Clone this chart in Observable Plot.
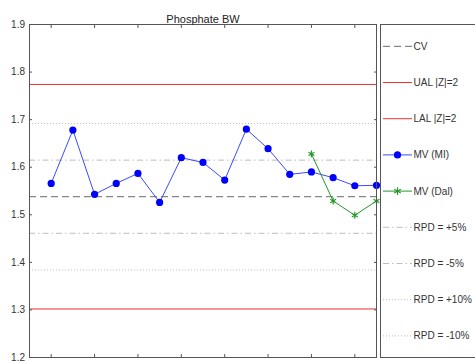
<!DOCTYPE html>
<html>
<head>
<meta charset="utf-8">
<script src="https://cdn.jsdelivr.net/npm/d3@7"></script>
<script src="https://cdn.jsdelivr.net/npm/@observablehq/plot@0.6"></script>
<style>
  body { margin: 0; background: #fff; }
  #chart { position: relative; width: 475px; height: 361px; font-family: "Liberation Sans", Arial, sans-serif; }
  #chart svg { position: absolute; left: 0; top: 0; }
</style>
</head>
<body>
<div id="chart"></div>
<script>
// Phosphate BW: measured values per run, with control limits and RPD bands
const title = "Phosphate BW";
const runs = [1, 2, 3, 4, 5, 6, 7, 8, 9, 10, 11, 12, 13, 14, 15, 16];
const mvMI = [1.566, 1.678, 1.543, 1.566, 1.587, 1.526, 1.620, 1.610, 1.573, 1.680, 1.639, 1.585, 1.590, 1.578, 1.561, 1.562];
const runsDal = [13, 14, 15, 16];
const mvDal = [1.628, 1.529, 1.499, 1.529];
const cv = 1.538;
const ual = 1.774;
const lal = 1.302;
const rpdPercent = [5, -5, 10, -10];
const yTicks = [1.2, 1.3, 1.4, 1.5, 1.6, 1.7, 1.8, 1.9];
const xTicks = [1, 3, 5, 7, 9, 11, 13, 15];
const legendLabels = ["CV", "UAL |Z|=2", "LAL |Z|=2", "MV (MI)", "MV (Dal)", "RPD = +5%", "RPD = -5%", "RPD = +10%", "RPD = -10%"];

const colors = { cv: "#6a6a6a", limit: "#f03030", mi: "#3a4aff", miDot: "#0000ff", dal: "#23982a", rpd: "#bdbdbd", axis: "#555", text: "#333" };
const dash = { cv: "7,4", rpd5: "6,3,1.5,3", rpd10: "1,2" };

const mi = runs.map((r, i) => ({ run: r, value: mvMI[i] }));
const dal = runsDal.map((r, i) => ({ run: r, value: mvDal[i] }));
const rpd5 = rpdPercent.filter(p => Math.abs(p) === 5).map(p => cv * (1 + p / 100));
const rpd10 = rpdPercent.filter(p => Math.abs(p) === 10).map(p => cv * (1 + p / 100));

// inward tick marks on all four sides, labels only on the left
const tickOnly = { tickSize: -3, fill: "none", label: null, stroke: colors.axis };

const plot = Plot.plot({
  width: 475,
  height: 361,
  marginLeft: 29,
  marginRight: 99,
  marginTop: 24,
  marginBottom: 4,
  style: { fontFamily: "Liberation Sans, Arial, sans-serif", fontSize: "10px", color: colors.text, background: "transparent" },
  x: { domain: [0, 16], axis: null },
  y: { domain: [1.2, 1.9], axis: null },
  marks: [
    Plot.ruleY(rpd10, { stroke: colors.rpd, strokeDasharray: dash.rpd10 }),
    Plot.ruleY(rpd5, { stroke: colors.rpd, strokeDasharray: dash.rpd5 }),
    Plot.ruleY([ual, lal], { stroke: colors.limit }),
    Plot.ruleY([cv], { stroke: colors.cv, strokeDasharray: dash.cv }),
    Plot.line(mi, { x: "run", y: "value", stroke: colors.mi, strokeWidth: 1 }),
    Plot.dot(mi, { x: "run", y: "value", r: 3.6, fill: colors.miDot, stroke: null }),
    Plot.line(dal, { x: "run", y: "value", stroke: colors.dal, strokeWidth: 1 }),
    Plot.dot(dal, { x: "run", y: "value", symbol: "asterisk", r: 3.2, stroke: colors.dal, strokeWidth: 1.2 }),
    Plot.frame({ stroke: colors.axis }),
    Plot.axisY({ ticks: yTicks, anchor: "left", tickSize: -3, tickPadding: 7.5, tickFormat: ".1f", label: null, stroke: colors.axis, fill: colors.text }),
    Plot.axisY({ ticks: yTicks, anchor: "right", ...tickOnly }),
    Plot.axisX({ ticks: xTicks, anchor: "top", ...tickOnly }),
    Plot.axisX({ ticks: xTicks, anchor: "bottom", ...tickOnly }),
    Plot.text([title], { frameAnchor: "top", dy: -9, fontSize: 11, fill: "#222" })
  ]
});
document.getElementById("chart").appendChild(plot);

// Legend panel to the right of the plot
const legend = d3.select("#chart").append("svg")
  .attr("width", 475).attr("height", 361)
  .style("pointer-events", "none")
  .style("font-family", "Liberation Sans, Arial, sans-serif")
  .style("font-size", "10px");

legend.append("rect")
  .attr("x", 380.5).attr("y", 24.5).attr("width", 120).attr("height", 333)
  .attr("fill", "#fff").attr("stroke", colors.axis);

const styles = [
  { stroke: colors.cv, dash: dash.cv },
  { stroke: colors.limit },
  { stroke: colors.limit },
  { stroke: colors.mi, marker: "dot" },
  { stroke: colors.dal, marker: "asterisk" },
  { stroke: colors.rpd, dash: dash.rpd5 },
  { stroke: colors.rpd, dash: dash.rpd5 },
  { stroke: colors.rpd, dash: dash.rpd10 },
  { stroke: colors.rpd, dash: dash.rpd10 }
];

legendLabels.forEach((label, i) => {
  const y = 46.3 + i * 36.2;
  const s = styles[i];
  const g = legend.append("g");
  g.append("line").attr("x1", 383).attr("x2", 412).attr("y1", y).attr("y2", y)
    .attr("stroke", s.stroke).attr("stroke-dasharray", s.dash || null);
  if (s.marker === "dot") {
    g.append("circle").attr("cx", 397.5).attr("cy", y).attr("r", 3.6).attr("fill", colors.miDot);
  } else if (s.marker === "asterisk") {
    g.append("path").attr("transform", `translate(397.5,${y})`)
      .attr("d", d3.symbol(d3.symbolAsterisk, 40)())
      .attr("fill", "none").attr("stroke", colors.dal).attr("stroke-width", 1.2);
  }
  g.append("text").attr("x", 413.5).attr("y", y).attr("dy", "0.35em")
    .attr("fill", colors.text).text(label);
});
</script>
</body>
</html>
